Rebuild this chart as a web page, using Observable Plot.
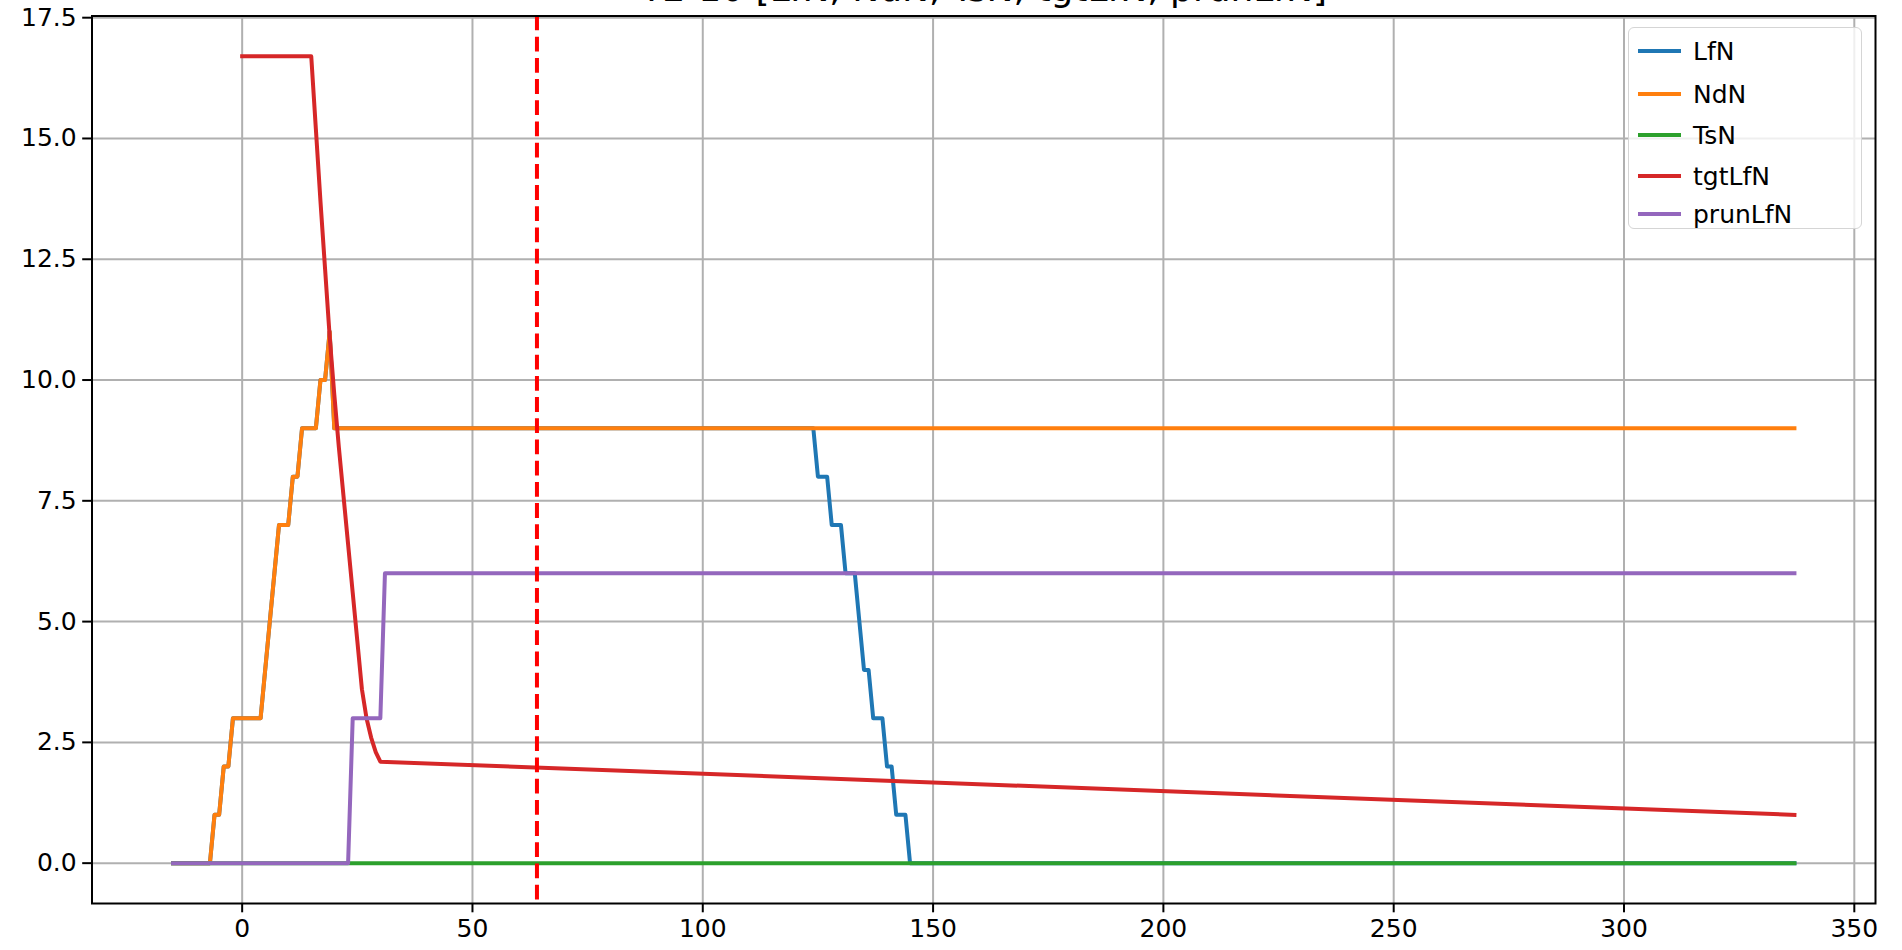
<!DOCTYPE html>
<html>
<head>
<meta charset="utf-8">
<script src="https://cdn.jsdelivr.net/npm/d3@7"></script>
<script src="https://cdn.jsdelivr.net/npm/@observablehq/plot@0.6"></script>
<style>
  html, body { margin: 0; padding: 0; background: #fff; overflow: hidden; }
  #wrap { position: relative; width: 1902px; height: 950px; font-family: "DejaVu Sans", sans-serif; }
  #legend { position: absolute; left: 1628px; top: 27px; width: 234px; height: 202px;
            border: 1.5px solid #d5d5d5; border-radius: 6px; background: rgba(255,255,255,0.8); box-sizing: border-box; }
  .li { position: absolute; left: 0; height: 30px; display: flex; align-items: center; font-size: 25px; color: #000; }
  .sw { width: 43px; height: 4px; margin-left: 9px; margin-right: 12px; }
</style>
</head>
<body>
<div id="wrap"><div id="legend"></div></div>
<script>
const titleText = "T2-10 [LfN, NdN, TsN, tgtLfN, prunLfN]";
const seriesNames = ["LfN", "NdN", "TsN", "tgtLfN", "prunLfN"];
const seriesColors = ["#1f77b4", "#ff7f0e", "#2ca02c", "#d62728", "#9467bd"];

const lfnX = [-15, -7, -6, -5, -4, -3, -2, 4, 5, 6, 7, 8, 10, 11, 12, 13, 16, 17, 18, 19, 20, 124, 125, 127, 128, 130, 131, 133, 134, 135, 136, 137, 139, 140, 141, 142, 144, 145, 337];
const lfnY = [0, 0, 1, 1, 2, 2, 3, 3, 4, 5, 6, 7, 7, 8, 8, 9, 9, 10, 10, 11, 9, 9, 8, 8, 7, 7, 6, 6, 5, 4, 4, 3, 3, 2, 2, 1, 1, 0, 0];

const ndnX = [-15, -7, -6, -5, -4, -3, -2, 4, 5, 6, 7, 8, 10, 11, 12, 13, 16, 17, 18, 19, 20, 337];
const ndnY = [0, 0, 1, 1, 2, 2, 3, 3, 4, 5, 6, 7, 7, 8, 8, 9, 9, 10, 10, 11, 9, 9];

const tsnX = [-15, 337];
const tsnY = [0, 0];

const tgtX = [0, 15, 16, 17, 18, 19, 20, 21, 22, 23, 24, 25, 26, 27, 28, 29, 30, 337];
const tgtY = [16.7, 16.7, 15.2, 13.7, 12.3, 10.9, 9.7, 8.6, 7.6, 6.6, 5.6, 4.6, 3.6, 3.0, 2.6, 2.3, 2.1, 1.0];

const prunX = [-15, 23, 24, 30, 31, 337];
const prunY = [0, 0, 3, 3, 6, 6];

const markerX = [64];
const xTicks = [0, 50, 100, 150, 200, 250, 300, 350];
const yTicks = [0, 2.5, 5, 7.5, 10, 12.5, 15, 17.5];

const seriesXs = [lfnX, ndnX, tsnX, tgtX, prunX];
const seriesYs = [lfnY, ndnY, tsnY, tgtY, prunY];
const series = seriesNames.map((name, i) => ({
  name, color: seriesColors[i],
  points: seriesXs[i].map((x, j) => ({x, y: seriesYs[i][j]}))
}));

const fontSize = 25;
const chart = Plot.plot({
  width: 1902,
  height: 950,
  marginLeft: 91.5,
  marginRight: 27,
  marginTop: 15.5,
  marginBottom: 47,
  style: {fontFamily: "DejaVu Sans, sans-serif", fontSize: fontSize + "px", color: "#000", background: "#fff"},
  x: {domain: [-32.6, 354.6]},
  y: {domain: [-0.835, 17.535]},
  marks: [
    Plot.gridX(xTicks, {stroke: "#b0b0b0", strokeOpacity: 1, strokeWidth: 2}),
    Plot.gridY(yTicks, {stroke: "#b0b0b0", strokeOpacity: 1, strokeWidth: 2}),
    ...series.map(s => Plot.line(s.points, {x: "x", y: "y", stroke: s.color, strokeWidth: 4, strokeLinecap: "square", strokeLinejoin: "round"})),
    Plot.ruleX(markerX, {stroke: "red", strokeWidth: 4, strokeDasharray: "14.8,6.4"}),
    Plot.frame({stroke: "#000", strokeWidth: 2}),
    Plot.axisX(xTicks, {tickSize: 9.3, tickPadding: 6, strokeWidth: 2, label: null, tickFormat: d => String(d), fontSize: fontSize}),
    Plot.axisY(yTicks, {tickSize: 9.3, tickPadding: 6, strokeWidth: 2, label: null, tickFormat: d3.format(".1f"), fontSize: fontSize}),
    Plot.text([titleText], {frameAnchor: "top", dy: -15.5, lineAnchor: "bottom", fontSize: 36, fill: "#000"})
  ]
});
document.getElementById("wrap").insertBefore(chart, document.getElementById("legend"));

const legend = document.getElementById("legend");
const legendTops = [8, 51, 92, 133, 171];
series.forEach((s, i) => {
  const row = document.createElement("div");
  row.className = "li";
  row.style.top = legendTops[i] + "px";
  const sw = document.createElement("div");
  sw.className = "sw";
  sw.style.background = s.color;
  const tx = document.createElement("span");
  tx.textContent = s.name;
  row.appendChild(sw);
  row.appendChild(tx);
  legend.appendChild(row);
});
</script>
</body>
</html>
